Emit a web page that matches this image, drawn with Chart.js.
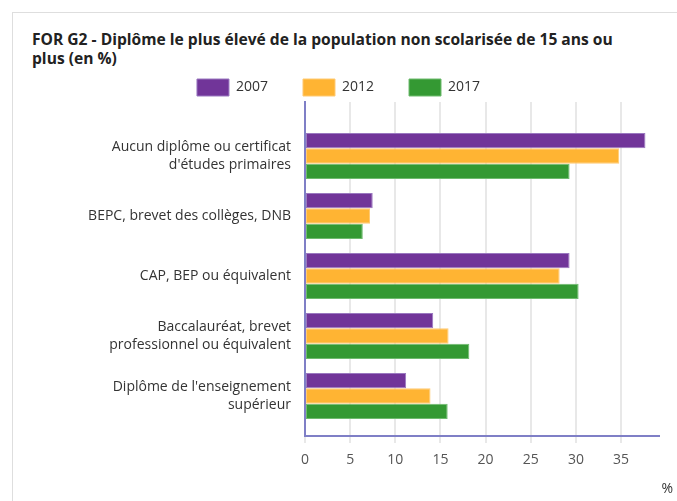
<!DOCTYPE html>
<html>
<head>
<meta charset="utf-8">
<script src="https://cdn.jsdelivr.net/npm/chart.js@4/dist/chart.umd.min.js"></script>
<style>
  html, body { margin: 0; padding: 0; background: #fff; }
  body { width: 677px; height: 501px; position: relative; overflow: hidden; font-family: 'Open Sans', sans-serif; }
  #frame { position: absolute; left: 12px; top: 12px; right: -2px; bottom: -2px; border-top: 1px solid #dedede; border-left: 1px solid #dedede; }
  #title { position: absolute; left: 32px; top: 30px; margin: 0; font-size: 15.6px; line-height: 19px; font-weight: 700; color: #222; white-space: nowrap; }
  #unit { position: absolute; right: 4px; top: 479px; font-size: 14px; line-height: 18px; color: #333; }
  #wrap { position: absolute; left: 0; top: 44px; width: 677px; height: 457px; }
</style>
</head>
<body>
<div id="frame"></div>
<div id="title">FOR G2 - Diplôme le plus élevé de la population non scolarisée de 15 ans ou<br>plus (en %)</div>
<div id="wrap"><canvas id="c" width="677" height="457"></canvas></div>
<div id="unit">%</div>
<script>
const categories = [
  ["Aucun diplôme ou certificat", "d'études primaires"],
  ["BEPC, brevet des collèges, DNB"],
  ["CAP, BEP ou équivalent"],
  ["Baccalauréat, brevet", "professionnel ou équivalent"],
  ["Diplôme de l'enseignement", "supérieur"]
];
const seriesNames = ["2007", "2012", "2017"];
const values2007 = [37.7, 7.5, 29.3, 14.2, 11.2];
const values2012 = [34.8, 7.2, 28.2, 15.9, 13.9];
const values2017 = [29.3, 6.4, 30.3, 18.2, 15.8];
const xTicks = [0, 5, 10, 15, 20, 25, 30, 35];

const toPoints = arr => arr.map((v, i) => ({ x: v, y: i }));

const fills = ['#713599', '#ffb433', '#349933'];
const borders = ['#9a78c0', '#ffca73', '#6fbb6f'];
const seriesValues = [values2007, values2012, values2017];

new Chart(document.getElementById('c'), {
  type: 'bar',
  data: {
    datasets: seriesNames.map((name, k) => ({
      label: name,
      data: toPoints(seriesValues[k]),
      backgroundColor: fills[k],
      borderColor: borders[k],
      borderWidth: 1,
      borderSkipped: false,
      categoryPercentage: 0.767,
      barPercentage: 1.0
    }))
  },
  options: {
    indexAxis: 'y',
    responsive: false,
    animation: false,
    layout: { padding: 0 },
    plugins: {
      title: { display: false },
      tooltip: { enabled: false },
      legend: {
        position: 'top',
        align: 'center',
        maxHeight: 58,
        labels: {
          boxWidth: 32,
          boxHeight: 17,
          padding: 35,
          color: '#333',
          font: { family: "'Open Sans', sans-serif", size: 14 }
        }
      }
    },
    scales: {
      x: {
        type: 'linear',
        position: 'bottom',
        min: 0,
        max: 39.2,
        offset: false,
        afterFit: s => { s.height = 65; },
        grid: { display: true, color: '#e8e8e8', lineWidth: 2, drawTicks: true, tickLength: 7 },
        border: { display: true, color: '#7f7fc6', width: 2 },
        ticks: {
          stepSize: 5,
          includeBounds: false,
          autoSkip: false,
          padding: 9,
          color: '#555',
          font: { family: "'Open Sans', sans-serif", size: 14 },
          callback: v => xTicks.includes(v) ? String(v) : ''
        }
      },
      y: {
        type: 'linear',
        position: 'left',
        reverse: true,
        offset: false,
        min: -0.9,
        max: 4.667,
        afterFit: s => { s.width = 305; },
        grid: { display: false, drawTicks: false },
        border: { display: true, color: '#7f7fc6', width: 2 },
        ticks: {
          stepSize: 1,
          includeBounds: false,
          autoSkip: false,
          padding: 14,
          color: '#333',
          font: { family: "'Open Sans', sans-serif", size: 14, lineHeight: 1.26 },
          callback: v => (Number.isInteger(v) && categories[v]) ? categories[v] : ''
        }
      },
      ySpacer: {
        type: 'linear',
        position: 'right',
        display: true,
        offset: false,
        afterFit: s => { s.width = 18; },
        grid: { display: false, drawTicks: false },
        border: { display: false },
        ticks: { display: false }
      }
    }
  }
});
</script>
</body>
</html>
